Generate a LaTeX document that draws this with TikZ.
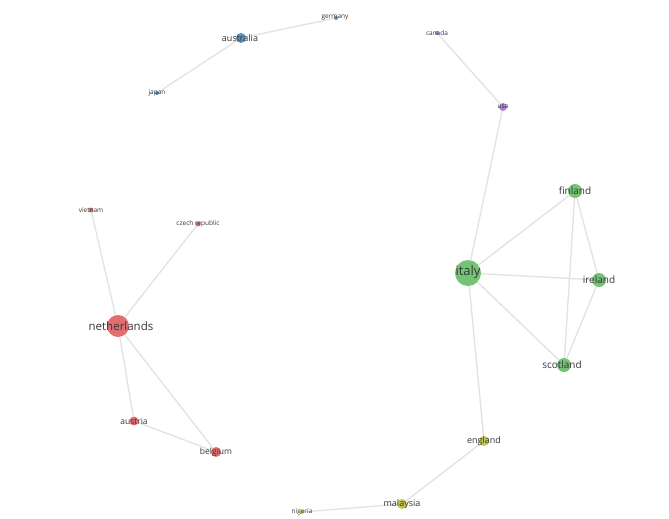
\documentclass[tikz,border=0pt]{standalone}
\usepackage{fontspec}
\setmainfont{Open Sans}
\definecolor{grn}{RGB}{102,190,102}
\definecolor{rd}{RGB}{222,96,96}
\definecolor{bl}{RGB}{72,134,184}
\definecolor{pu}{RGB}{164,118,206}
\definecolor{yl}{RGB}{192,192,64}
\definecolor{edg}{RGB}{226,226,226}
\definecolor{txt}{RGB}{55,55,55}
\tikzset{
  dot/.style={circle, inner sep=0pt, draw=none, fill opacity=0.9},
  lbl/.style={text=txt, inner sep=0pt},
  edge/.style={draw=edg, line width=1.3pt},
}
\newcommand{\fs}[1]{\fontsize{#1}{#1}\selectfont}
\begin{document}
\begin{tikzpicture}[x=1pt,y=-1pt]
\useasboundingbox[fill=white] (0,0) rectangle (669,519);
% circles
\node[dot, fill=bl, minimum size=10pt] (australia) at (241,38) {};
\node[dot, fill=bl, minimum size=4pt] (germany) at (336,18) {};
\node[dot, fill=bl, minimum size=4pt] (japan) at (157,93) {};
\node[dot, fill=pu, minimum size=4pt] (canada) at (437,33) {};
\node[dot, fill=pu, minimum size=8pt] (usa) at (503,107) {};
\node[dot, fill=rd, minimum size=5pt] (vietnam) at (91,210) {};
\node[dot, fill=rd, minimum size=5pt] (czech) at (198,224) {};
\node[dot, fill=rd, minimum size=22pt] (netherlands) at (118,326) {};
\node[dot, fill=rd, minimum size=9pt] (austria) at (134,421) {};
\node[dot, fill=rd, minimum size=10pt] (belgium) at (216,452) {};
\node[dot, fill=grn, minimum size=26pt] (italy) at (468,273) {};
\node[dot, fill=grn, minimum size=14pt] (finland) at (575,191) {};
\node[dot, fill=grn, minimum size=14pt] (ireland) at (599,280) {};
\node[dot, fill=grn, minimum size=14pt] (scotland) at (564,365) {};
\node[dot, fill=yl, minimum size=10pt] (england) at (484,441) {};
\node[dot, fill=yl, minimum size=10pt] (malaysia) at (402,504) {};
\node[dot, fill=yl, minimum size=4pt] (nigeria) at (302,512) {};
% edges
\path[edge] (australia) -- (germany);
\path[edge] (australia) -- (japan);
\path[edge] (canada) -- (usa);
\path[edge] (usa) -- (italy);
\path[edge] (italy) -- (finland);
\path[edge] (italy) -- (ireland);
\path[edge] (italy) -- (scotland);
\path[edge] (finland) -- (ireland);
\path[edge] (finland) -- (scotland);
\path[edge] (ireland) -- (scotland);
\path[edge] (italy) -- (england);
\path[edge] (england) -- (malaysia);
\path[edge] (malaysia) -- (nigeria);
\path[edge] (netherlands) -- (vietnam);
\path[edge] (netherlands) -- (czech);
\path[edge] (netherlands) -- (austria);
\path[edge] (netherlands) -- (belgium);
\path[edge] (austria) -- (belgium);
% labels
\node[lbl] (l-australia) at (240,38) {\fs{9}australia};
\node[lbl] (l-germany) at (335,18) {\fs{6.5}germany};
\node[lbl] (l-japan) at (157,93) {\fs{6.5}japan};
\node[lbl] (l-canada) at (437,33) {\fs{6.5}canada};
\node[lbl] (l-usa) at (503,107) {\fs{6.5}usa};
\node[lbl] (l-vietnam) at (91,210) {\fs{6.5}vietnam};
\node[lbl] (l-czech) at (198,224) {\fs{6.5}czech republic};
\node[lbl] (l-netherlands) at (121,326) {\fs{11.5}netherlands};
\node[lbl] (l-austria) at (134,421) {\fs{8.5}austria};
\node[lbl] (l-belgium) at (216,452) {\fs{8.5}belgium};
\node[lbl] (l-italy) at (468,272) {\fs{13}italy};
\node[lbl] (l-finland) at (575,191) {\fs{10}finland};
\node[lbl] (l-ireland) at (599,280) {\fs{10}ireland};
\node[lbl] (l-scotland) at (562,365) {\fs{10}scotland};
\node[lbl] (l-england) at (484,441) {\fs{9}england};
\node[lbl] (l-malaysia) at (402,504) {\fs{9}malaysia};
\node[lbl] (l-nigeria) at (302,512) {\fs{6.5}nigeria};
\end{tikzpicture}
\end{document}
